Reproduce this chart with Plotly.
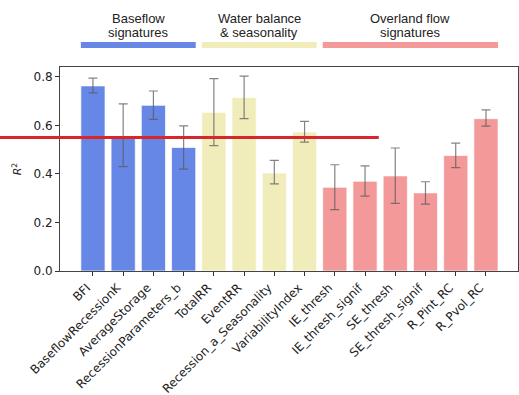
import plotly.graph_objects as go

names = ["BFI", "BaseflowRecessionK", "AverageStorage", "RecessionParameters_b",
         "TotalRR", "EventRR", "Recession_a_Seasonality", "VariabilityIndex",
         "IE_thresh", "IE_thresh_signif", "SE_thresh", "SE_thresh_signif",
         "R_Pint_RC", "R_Pvol_RC"]
r2 = [0.763, 0.557, 0.683, 0.509, 0.654, 0.715, 0.404, 0.573,
      0.345, 0.370, 0.392, 0.322, 0.476, 0.628]
err_hi = [0.795, 0.689, 0.742, 0.598, 0.793, 0.803, 0.456, 0.617,
          0.438, 0.433, 0.507, 0.368, 0.527, 0.664]
err_lo = [0.734, 0.430, 0.625, 0.420, 0.517, 0.628, 0.359, 0.531,
          0.253, 0.309, 0.279, 0.276, 0.426, 0.597]
group_of = [0, 0, 0, 0, 1, 1, 1, 1, 2, 2, 2, 2, 2, 2]
group_line1 = ["Baseflow", "Water balance", "Overland flow"]
group_line2 = ["signatures", "& seasonality", "signatures"]
group_colors = ["#6787e7", "#f1edbb", "#f39999"]
threshold = 0.55

x = list(range(len(names)))
fig = go.Figure()
fig.add_trace(go.Bar(
    x=x, y=r2, width=0.8,
    marker=dict(color=[group_colors[g] for g in group_of],
                line=dict(color="rgba(255,255,255,0.7)", width=1)),
    error_y=dict(type="data", symmetric=False,
                 array=[h - v for h, v in zip(err_hi, r2)],
                 arrayminus=[v - l for l, v in zip(err_lo, r2)],
                 color="rgba(90,90,90,0.75)", thickness=1.2, width=4.5),
    showlegend=False,
))

shapes = []
annotations = []
hdr_font = dict(family="Liberation Sans", size=13, color="#222")
for gi in range(len(group_colors)):
    idx = [i for i, g in enumerate(group_of) if g == gi]
    x0, x1 = min(idx) - 0.4, max(idx) + 0.4
    shapes.append(dict(type="rect", xref="x", yref="paper", x0=x0, x1=x1,
                       y0=1.093, y1=1.122, fillcolor=group_colors[gi],
                       line=dict(width=0)))
    annotations.append(dict(x=(x0 + x1) / 2, xref="x", y=1.237, yref="paper",
                            text=group_line1[gi], showarrow=False, yanchor="middle",
                            font=hdr_font))
    annotations.append(dict(x=(x0 + x1) / 2, xref="x", y=1.168, yref="paper",
                            text=group_line2[gi], showarrow=False, yanchor="middle",
                            font=hdr_font))

shapes.append(dict(type="line", xref="paper", yref="y", x0=-0.131, x1=0.696,
                   y0=threshold, y1=threshold, line=dict(color="#d9262b", width=3)))

fig.update_layout(
    width=519, height=395,
    margin=dict(l=60, r=1, t=67, b=124),
    plot_bgcolor="white", paper_bgcolor="white",
    font=dict(family="DejaVu Sans", size=12, color="#222"),
    shapes=shapes, annotations=annotations,
    bargap=0.2,
)
fig.update_xaxes(range=[-1.09, 14.06], tickvals=x, ticktext=names, tickangle=-45,
                 ticks="outside", ticklen=4, tickcolor="#333", automargin=False,
                 ticklabelshift=-6,
                 showline=True, linecolor="#444", linewidth=1, mirror=True,
                 showgrid=False, zeroline=False, tickfont=dict(size=12))
fig.update_yaxes(range=[0, 0.841], tickvals=[0, 0.2, 0.4, 0.6, 0.8], tickformat=".1f",
                 ticks="outside", ticklen=4, tickcolor="#333", automargin=False,
                 showline=True, linecolor="#444", linewidth=1, mirror=True,
                 showgrid=False, zeroline=False, tickfont=dict(size=12),
                 title=dict(text="<i>R</i><sup>2</sup>", font=dict(size=11), standoff=9))

fig.write_html("out.html", config={"displayModeBar": False},
               post_script="document.body.style.margin='0px';")
